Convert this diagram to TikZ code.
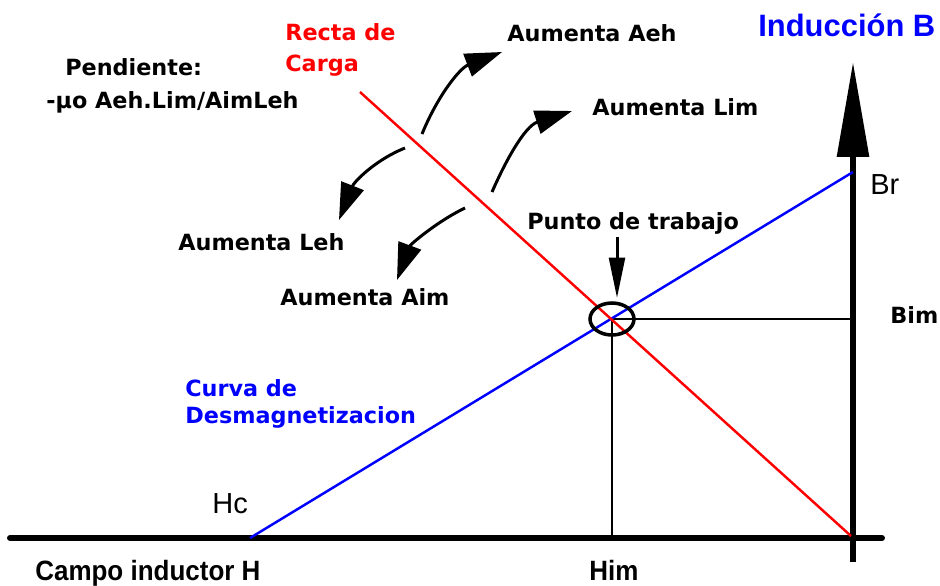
\documentclass[tikz,border=0pt]{standalone}
\usepackage{fontspec}
\setmainfont{DejaVu Sans}
\newfontfamily\arialfont{Liberation Sans}
\usetikzlibrary{arrows.meta}

\begin{document}
\begin{tikzpicture}[x={(0.02cm,0)}, y={(0,-0.02cm)},
    lbl/.style={font=\bfseries\fontsize{12.7}{14}\selectfont, inner sep=0, anchor=base west},
    axislbl/.style={font=\arialfont\bfseries\fontsize{15.9}{18}\selectfont, inner sep=0, anchor=base west, xscale=0.93},
    pointlbl/.style={font=\arialfont\fontsize{16.5}{19}\selectfont, inner sep=0, anchor=base west},
    bentarrow/.style={line width=1.7pt, -{Triangle[length=21pt,width=13.5pt]}}]
  \useasboundingbox (0,0) rectangle (940,585);

  % key points
  \coordinate (hc) at (250,538);
  \coordinate (br) at (853,172);
  \coordinate (rtop) at (360,92);
  \coordinate (rbot) at (851,536);
  \coordinate (wp) at (612,319);

  % axes
  \draw[line width=3.4pt, line cap=round] (10,538) -- (882,538);
  \draw[line width=3.4pt, -{Triangle[length=54pt,width=17.6pt]}] (853,562) -- (853,62);

  % guide lines of the working point
  \draw[line width=0.8pt] (wp) -- (wp -| br);
  \draw[line width=0.8pt] (wp) -- (wp |- hc);

  % demagnetization curve and load line
  \draw[blue, line width=1.4pt] (hc) -- (br);
  \draw[red, line width=1.4pt] (rtop) -- (rbot);
  \draw[line width=2pt] (wp) ellipse (22 and 16);

  % curved arrows
  \draw[bentarrow] (422,134) .. controls (438,95) and (460,68) .. (502,52);
  \draw[bentarrow] (492,192) .. controls (506,160) and (525,126) .. (572,111);
  \draw[bentarrow] (405,148) .. controls (375,160) and (354,182) .. (339,220);
  \draw[bentarrow] (465,208) .. controls (436,222) and (410,245) .. (397,280);
  \draw[line width=1.7pt, -{Triangle[length=23pt,width=9pt]}] (617,237) -- (617,298);

  % labels
  \node[lbl] (pend) at (65,75) {Pendiente:};
  \node[lbl] (slope) at (46,108) {-μo Aeh.Lim/AimLeh};
  \node[lbl, red] (recta) at (285,40) {Recta de};
  \node[lbl, red] (carga) at (285,71) {Carga};
  \node[lbl] (aeh) at (507,41) {Aumenta Aeh};
  \node[lbl] (lim) at (592,115) {Aumenta Lim};
  \node[lbl] (punto) at (527,229) {Punto de trabajo};
  \node[lbl] (leh) at (178,250) {Aumenta Leh};
  \node[lbl] (aim) at (280,305) {Aumenta Aim};
  \node[lbl] (bim) at (890,323) {Bim};
  \node[lbl, blue] (curva) at (185,396) {Curva de};
  \node[lbl, blue] (desm) at (185,423) {Desmagnetizacion};
  \node[font=\arialfont\bfseries\fontsize{17.6}{20}\selectfont, inner sep=0, anchor=base west, blue] (ind) at (758,36) {Inducción B};
  \node[pointlbl] (brlbl) at (870,194) {Br};
  \node[pointlbl] (hclbl) at (212,513) {Hc};
  \node[axislbl] (campo) at (35,580) {Campo inductor H};
  \node[axislbl] (him) at (589,580) {Him};
\end{tikzpicture}
\end{document}
